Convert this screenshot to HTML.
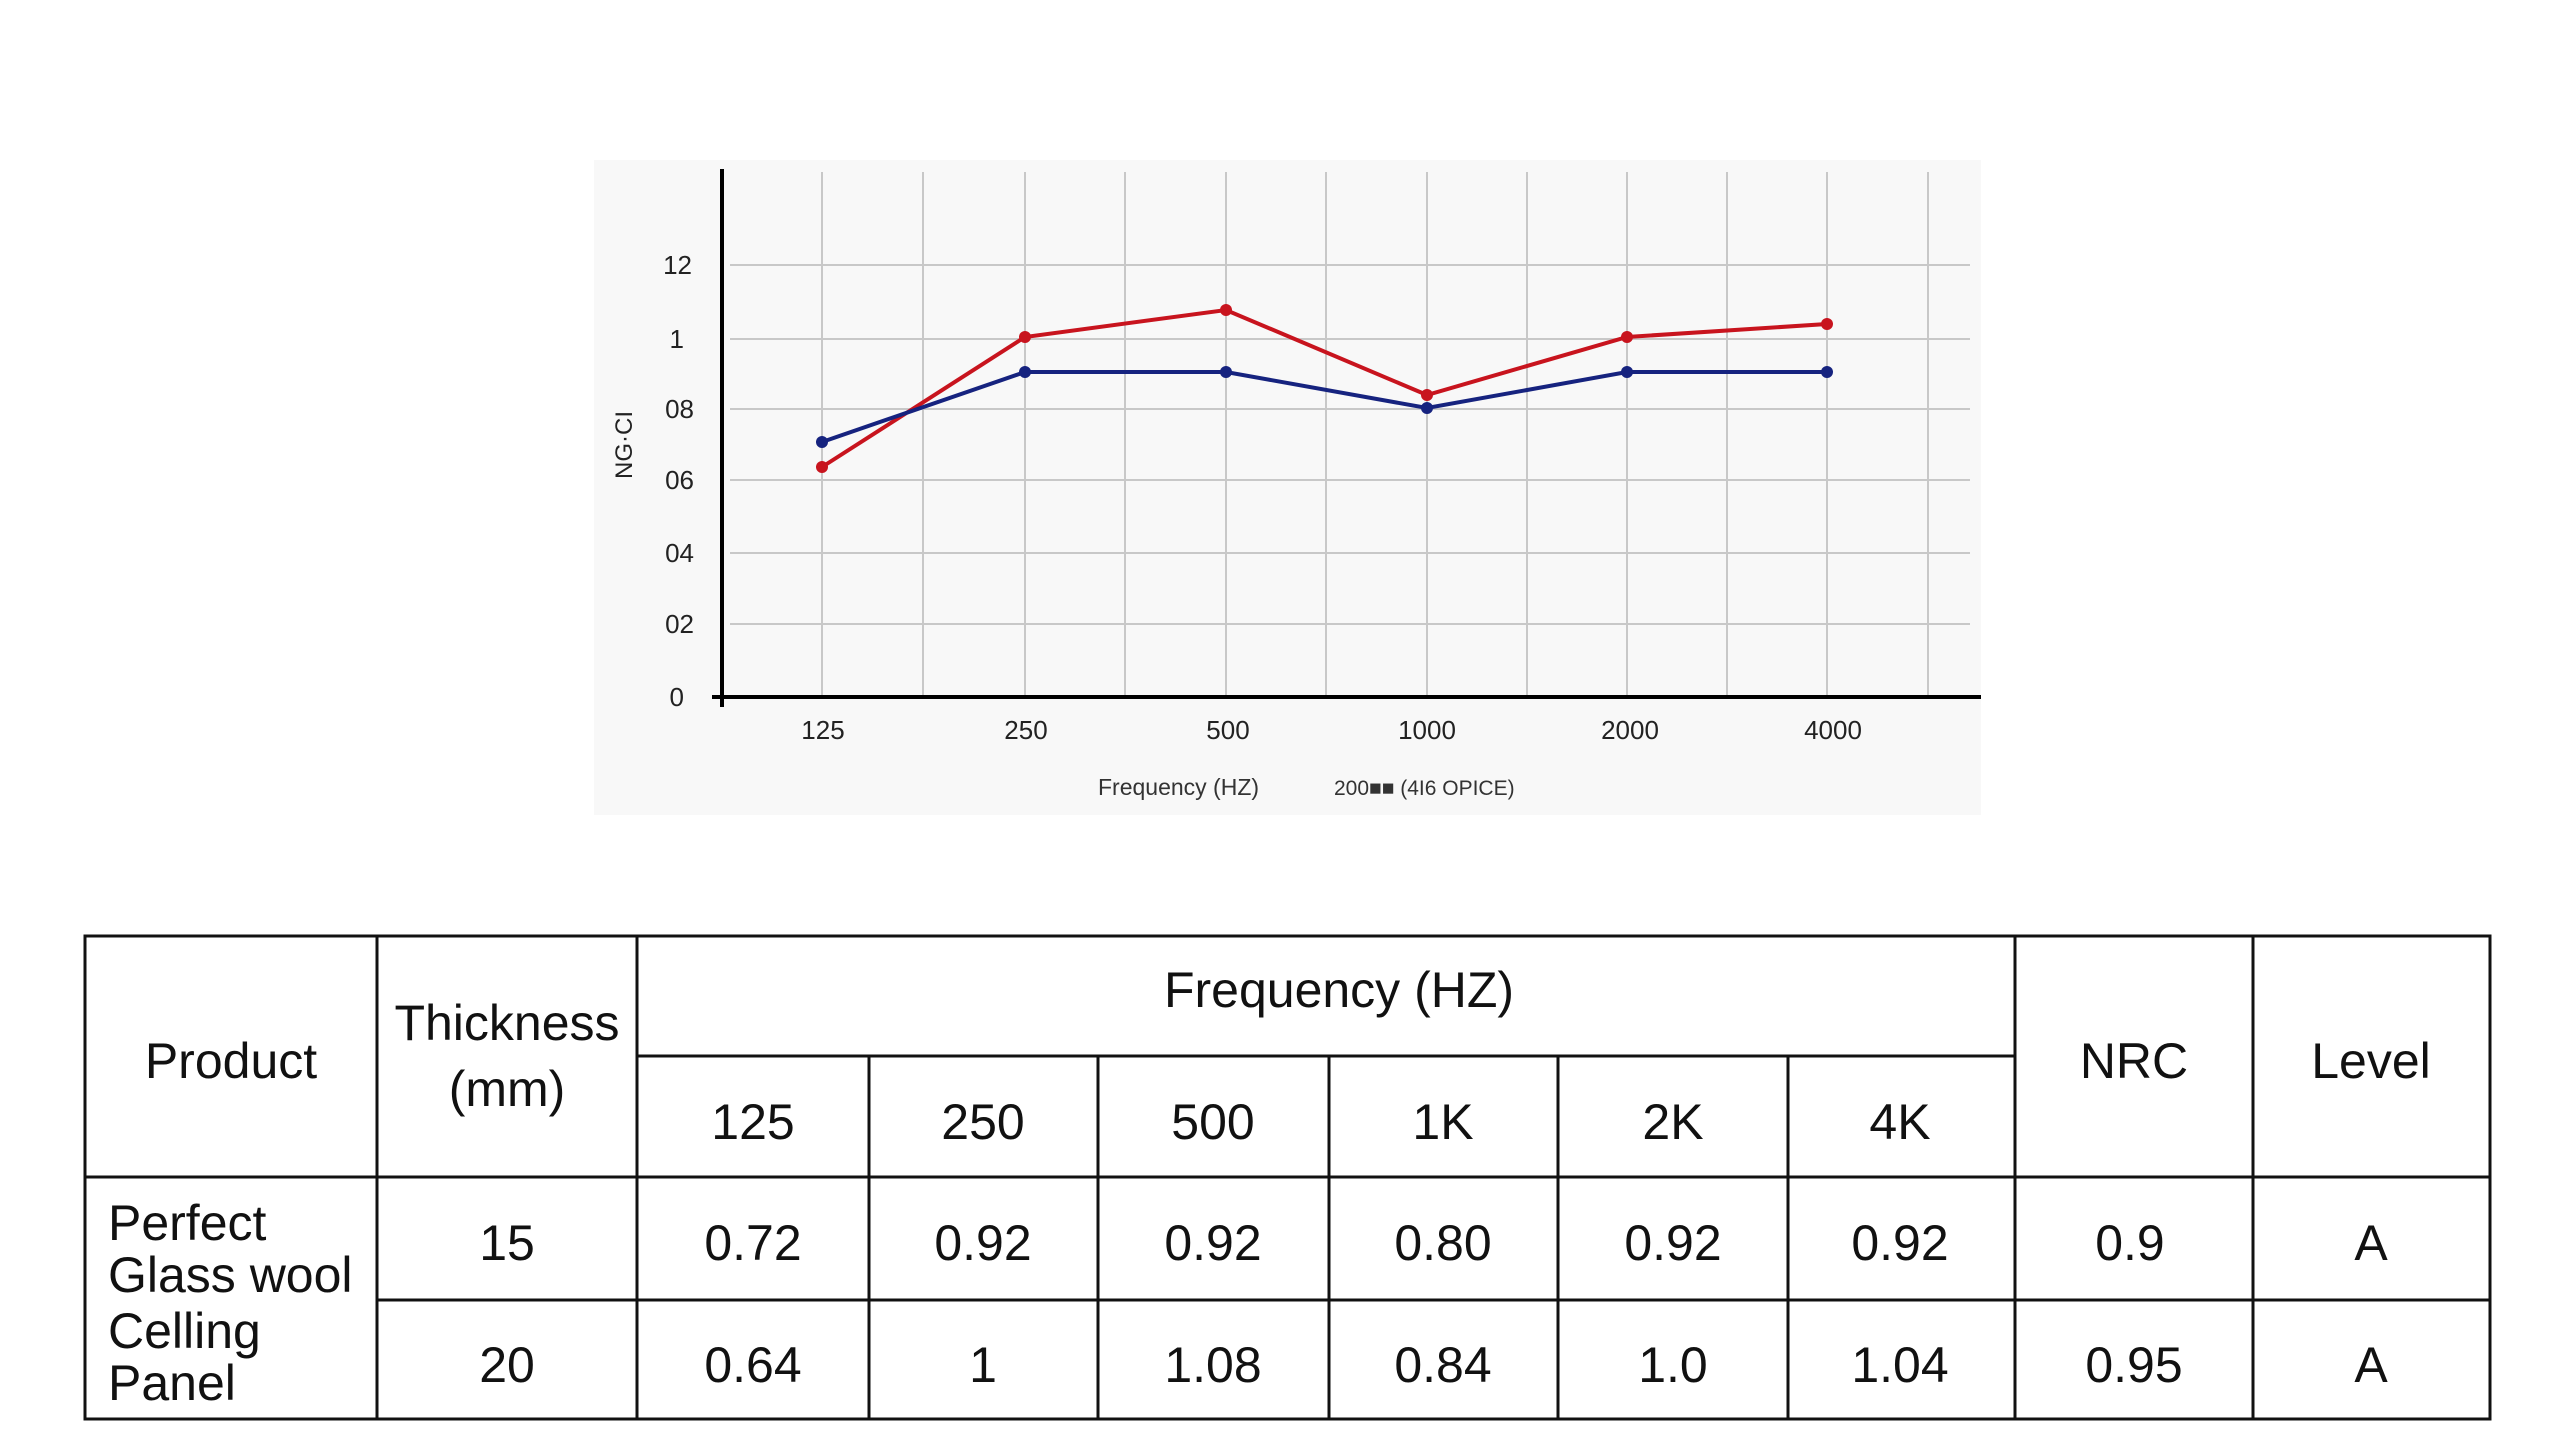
<!DOCTYPE html>
<html><head><meta charset="utf-8"><style>
html,body{margin:0;padding:0;background:#fff;}
svg{display:block;}
text{font-family:"Liberation Sans","DejaVu Sans",sans-serif;}
</style></head><body>
<svg width="2560" height="1439" viewBox="0 0 2560 1439" xmlns="http://www.w3.org/2000/svg">
<rect width="2560" height="1439" fill="#fff"/>
<rect x="594" y="160" width="1387" height="655" fill="#f8f8f8"/>
<g stroke="#c8c8c8" stroke-width="2">
<line x1="730" y1="265" x2="1970" y2="265"/>
<line x1="730" y1="339" x2="1970" y2="339"/>
<line x1="730" y1="409" x2="1970" y2="409"/>
<line x1="730" y1="480" x2="1970" y2="480"/>
<line x1="730" y1="553" x2="1970" y2="553"/>
<line x1="730" y1="624" x2="1970" y2="624"/>
<line x1="822" y1="172" x2="822" y2="697"/><line x1="923" y1="172" x2="923" y2="697"/>
<line x1="1025" y1="172" x2="1025" y2="697"/><line x1="1125" y1="172" x2="1125" y2="697"/>
<line x1="1226" y1="172" x2="1226" y2="697"/><line x1="1326" y1="172" x2="1326" y2="697"/>
<line x1="1427" y1="172" x2="1427" y2="697"/><line x1="1527" y1="172" x2="1527" y2="697"/>
<line x1="1627" y1="172" x2="1627" y2="697"/><line x1="1727" y1="172" x2="1727" y2="697"/>
<line x1="1827" y1="172" x2="1827" y2="697"/><line x1="1928" y1="172" x2="1928" y2="697"/>
</g>
<line x1="722" y1="169" x2="722" y2="707" stroke="#000" stroke-width="4"/>
<line x1="712" y1="697" x2="1981" y2="697" stroke="#000" stroke-width="4"/>
<g font-size="26" fill="#222" text-anchor="end">
<text x="692" y="274">12</text><text x="684" y="348">1</text><text x="694" y="418">08</text>
<text x="694" y="489">06</text><text x="694" y="562">04</text><text x="694" y="633">02</text><text x="684" y="706">0</text>
</g>
<text transform="translate(632,445) rotate(-90)" font-size="24" fill="#222" text-anchor="middle">NG·CI</text>
<g font-size="26" fill="#222" text-anchor="middle">
<text x="823" y="739">125</text><text x="1026" y="739">250</text><text x="1228" y="739">500</text>
<text x="1427" y="739">1000</text><text x="1630" y="739">2000</text><text x="1833" y="739">4000</text>
</g>
<text x="1098" y="795" font-size="23" fill="#333">Frequency (HZ)</text>
<text x="1334" y="795" font-size="21" fill="#333">200■■ (4I6 OPICE)</text>
<polyline points="822,467 1025,337 1226,310 1427,395 1627,337 1827,324" fill="none" stroke="#c8141e" stroke-width="4"/>
<polyline points="822,442 1025,372 1226,372 1427,408 1627,372 1827,372" fill="none" stroke="#16237f" stroke-width="4"/>
<g fill="#c8141e"><circle cx="822" cy="467" r="6"/><circle cx="1025" cy="337" r="6"/><circle cx="1226" cy="310" r="6"/><circle cx="1427" cy="395" r="6"/><circle cx="1627" cy="337" r="6"/><circle cx="1827" cy="324" r="6"/></g>
<g fill="#16237f"><circle cx="822" cy="442" r="6"/><circle cx="1025" cy="372" r="6"/><circle cx="1226" cy="372" r="6"/><circle cx="1427" cy="408" r="6"/><circle cx="1627" cy="372" r="6"/><circle cx="1827" cy="372" r="6"/></g>

<g stroke="#111" stroke-width="3" fill="none">
<rect x="85" y="936" width="2405" height="483"/>
<line x1="377" y1="936" x2="377" y2="1419"/>
<line x1="637" y1="936" x2="637" y2="1419"/>
<line x1="869" y1="1056" x2="869" y2="1419"/>
<line x1="1098" y1="1056" x2="1098" y2="1419"/>
<line x1="1329" y1="1056" x2="1329" y2="1419"/>
<line x1="1558" y1="1056" x2="1558" y2="1419"/>
<line x1="1788" y1="1056" x2="1788" y2="1419"/>
<line x1="2015" y1="936" x2="2015" y2="1419"/>
<line x1="2253" y1="936" x2="2253" y2="1419"/>
<line x1="637" y1="1056" x2="2015" y2="1056"/>
<line x1="85" y1="1177" x2="2490" y2="1177"/>
<line x1="377" y1="1300" x2="2490" y2="1300"/>
</g>
<g font-size="50" fill="#111" text-anchor="middle">
<text x="1339" y="1007">Frequency (HZ)</text>
<text x="231" y="1078">Product</text>
<text x="507" y="1040">Thickness</text>
<text x="507" y="1106">(mm)</text>
<text x="2134" y="1078">NRC</text>
<text x="2371" y="1078">Level</text>
<text x="753" y="1139">125</text><text x="983" y="1139">250</text><text x="1213" y="1139">500</text>
<text x="1443" y="1139">1K</text><text x="1673" y="1139">2K</text><text x="1900" y="1139">4K</text>
<text x="507" y="1260">15</text><text x="753" y="1260">0.72</text><text x="983" y="1260">0.92</text><text x="1213" y="1260">0.92</text>
<text x="1443" y="1260">0.80</text><text x="1673" y="1260">0.92</text><text x="1900" y="1260">0.92</text>
<text x="2130" y="1260">0.9</text><text x="2371" y="1260">A</text>
<text x="507" y="1382">20</text><text x="753" y="1382">0.64</text><text x="983" y="1382">1</text><text x="1213" y="1382">1.08</text>
<text x="1443" y="1382">0.84</text><text x="1673" y="1382">1.0</text><text x="1900" y="1382">1.04</text>
<text x="2134" y="1382">0.95</text><text x="2371" y="1382">A</text>
</g>
<g font-size="50" fill="#111">
<text x="108" y="1240">Perfect</text>
<text x="108" y="1292">Glass wool</text>
<text x="108" y="1348">Celling</text>
<text x="108" y="1400">Panel</text>
</g>
</svg>
</body></html>
